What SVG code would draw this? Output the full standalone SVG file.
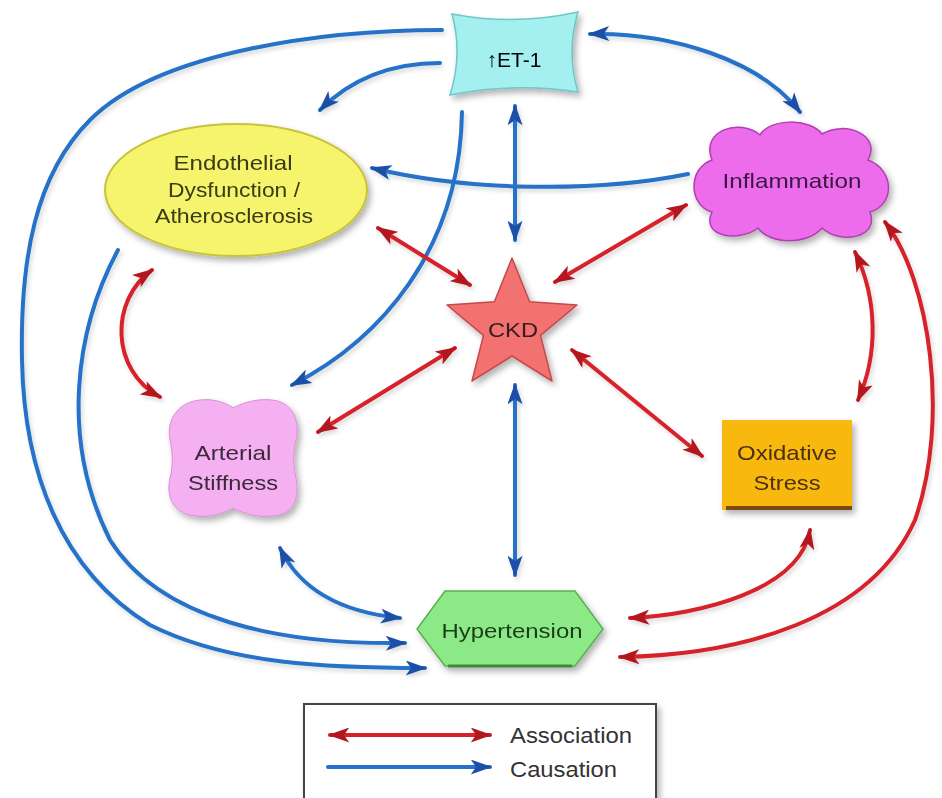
<svg xmlns="http://www.w3.org/2000/svg" width="942" height="798" viewBox="0 0 942 798">
<defs>
<style>
.lbl{font-family:"Liberation Sans",Arial,sans-serif;font-size:21px;text-anchor:middle;}
.blue{fill:none;stroke:#2672C8;stroke-width:4;stroke-linecap:round;}
.red{fill:none;stroke:#D6202A;stroke-width:4;stroke-linecap:round;}
.bh{marker-end:url(#bArr);}
.bb{marker-start:url(#bArr);marker-end:url(#bArr);}
.rb{marker-start:url(#rArr);marker-end:url(#rArr);}
</style>
<marker id="bArr" viewBox="0 0 20 14" refX="18" refY="7" markerWidth="22" markerHeight="15" markerUnits="userSpaceOnUse" orient="auto-start-reverse">
<path d="M0,0 L20,7 L0,14 L5,7 Z" fill="#1B4FA8"/>
</marker>
<marker id="rArr" viewBox="0 0 20 14" refX="18" refY="7" markerWidth="22" markerHeight="15" markerUnits="userSpaceOnUse" orient="auto-start-reverse">
<path d="M0,0 L20,7 L0,14 L5,7 Z" fill="#B3161E"/>
</marker>
<filter id="sh" x="-20%" y="-20%" width="140%" height="140%">
<feDropShadow dx="3" dy="4" stdDeviation="3" flood-color="#000" flood-opacity="0.3"/>
</filter>
<filter id="lsh" x="-10%" y="-10%" width="120%" height="120%">
<feDropShadow dx="2" dy="3" stdDeviation="2" flood-color="#000" flood-opacity="0.15"/>
</filter>
</defs>
<rect width="942" height="798" fill="#FFFFFF"/>

<g id="connectors" filter="url(#lsh)">
<!-- causation (blue) -->
<path class="blue bh" d="M442,30 C330,30 160,50 90,120 C35,175 20,260 22,360 C24,470 60,570 150,625 C230,665 330,668 425,668"/>
<path class="blue bh" d="M118,250 C75,330 60,440 110,540 C160,620 280,645 405,643"/>
<path class="blue bb" d="M280,548 C300,590 340,612 400,618"/>
<path class="blue bh" d="M440,63 C390,63 350,80 320,110"/>
<path class="blue bh" d="M462,112 C460,250 380,340 292,385"/>
<path class="blue bb" d="M515,106 L515,240"/>
<path class="blue bb" d="M590,34 C670,32 760,60 800,112"/>
<path class="blue bh" d="M688,174 C600,192 470,192 372,168"/>
<path class="blue bb" d="M515,385 L515,575"/>
<!-- association (red) -->
<path class="red rb" d="M378,228 L470,285"/>
<path class="red rb" d="M686,205 L555,282"/>
<path class="red rb" d="M318,432 L455,348"/>
<path class="red rb" d="M572,350 L702,456"/>
<path class="red rb" d="M152,270 C110,300 110,370 160,397"/>
<path class="red rb" d="M855,252 C878,300 878,355 858,400"/>
<path class="red rb" d="M810,530 C800,590 700,615 630,618"/>
<path class="red rb" d="M885,222 C930,280 950,420 915,520 C870,620 740,655 620,657"/>
</g>

<g id="et1" filter="url(#sh)">
<path d="M452,14 Q515,26 578,12 Q566,52 578,92 Q515,82 450,95 Q463,54 452,14 Z" fill="#A4F0F0" stroke="#6EC6C8" stroke-width="1.5"/>
<text class="lbl" x="514" y="67" font-size="19">↑ET-1</text>
</g>

<g id="endothelial" filter="url(#sh)">
<ellipse cx="236" cy="190" rx="131" ry="66" fill="#F6F46C" stroke="#C9C23A" stroke-width="2"/>
<text class="lbl" x="233" y="170" textLength="119" lengthAdjust="spacingAndGlyphs" fill="#3A3A18">Endothelial</text>
<text class="lbl" x="234" y="197" textLength="132" lengthAdjust="spacingAndGlyphs" fill="#3A3A18">Dysfunction /</text>
<text class="lbl" x="234" y="223" textLength="158" lengthAdjust="spacingAndGlyphs" fill="#3A3A18">Atherosclerosis</text>
</g>

<g id="inflammation" filter="url(#sh)">
<path d="M712,160 C700,130 740,118 760,135 C770,118 810,118 822,134 C845,120 882,135 868,160 C895,170 895,205 870,212 C880,238 840,245 822,228 C808,245 770,245 758,228 C740,242 700,238 712,212 C688,205 688,168 712,160 Z" fill="#EC6CEC" stroke="#B040B0" stroke-width="1.5"/>
<text class="lbl" x="792" y="188" textLength="139" lengthAdjust="spacingAndGlyphs" fill="#3A1840">Inflammation</text>
</g>

<g id="ckd" filter="url(#sh)">
<path d="M512,258 L529.6,301.7 L577,305 L540.5,335.3 L552,381 L512,356 L472,381 L483.5,335.3 L447,305 L494.4,301.7 Z" fill="#F27272" stroke="#C84848" stroke-width="1.5" stroke-linejoin="round"/>
<text class="lbl" x="513" y="337" textLength="50" lengthAdjust="spacingAndGlyphs" fill="#3A1A1A">CKD</text>
</g>

<g id="arterial" filter="url(#sh)">
<path d="M200,400 C215,398 228,404 233,408 C240,404 255,398 272,400 C295,402 300,425 296,440 C293,455 293,465 296,478 C300,500 293,515 272,516 C255,518 240,512 233,508 C226,512 212,518 196,516 C172,514 166,495 170,478 C173,465 173,455 170,440 C166,420 178,402 200,400 Z" fill="#F4B0F0" stroke="#D890D4" stroke-width="1"/>
<text class="lbl" x="233" y="460" textLength="77" lengthAdjust="spacingAndGlyphs" fill="#3A2A3A">Arterial</text>
<text class="lbl" x="233" y="490" textLength="90" lengthAdjust="spacingAndGlyphs" fill="#3A2A3A">Stiffness</text>
</g>

<g id="oxidative" filter="url(#sh)">
<rect x="722" y="420" width="130" height="90" fill="#F8B80E"/>
<rect x="726" y="506" width="126" height="4" fill="#7A4A14"/>
<text class="lbl" x="787" y="460" textLength="100" lengthAdjust="spacingAndGlyphs" fill="#4A3008">Oxidative</text>
<text class="lbl" x="787" y="490" textLength="67" lengthAdjust="spacingAndGlyphs" fill="#4A3008">Stress</text>
</g>

<g id="hypertension" filter="url(#sh)">
<path d="M445,591 L575,591 L603,629 L575,666 L445,666 L417,629 Z" fill="#8CEA86" stroke="#5AAE56" stroke-width="1.5"/>
<line x1="448" y1="666" x2="572" y2="666" stroke="#3E8A3A" stroke-width="3"/>
<text class="lbl" x="512" y="638" textLength="141" lengthAdjust="spacingAndGlyphs" fill="#1E3A1C">Hypertension</text>
</g>

<g id="legend">
<rect x="304" y="704" width="352" height="100" fill="#FFFFFF" stroke="#444" stroke-width="2" filter="url(#sh)"/>
<path class="red rb" d="M330,735 L490,735"/>
<path class="blue bh" d="M328,767 L490,767"/>
<text x="510" y="743" font-family="Liberation Sans, Arial, sans-serif" font-size="22" textLength="122" lengthAdjust="spacingAndGlyphs" fill="#333">Association</text>
<text x="510" y="777" font-family="Liberation Sans, Arial, sans-serif" font-size="22" textLength="107" lengthAdjust="spacingAndGlyphs" fill="#333">Causation</text>
</g>
</svg>
